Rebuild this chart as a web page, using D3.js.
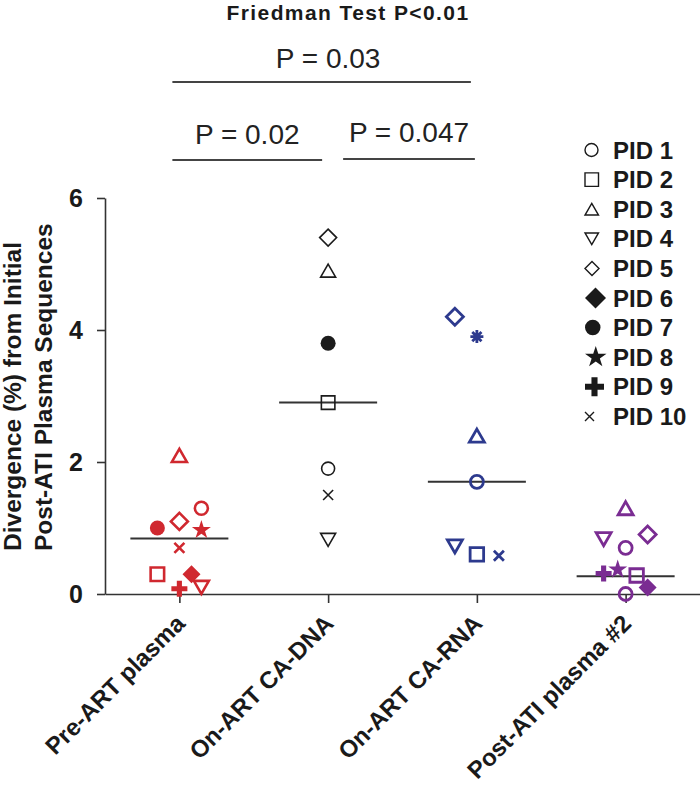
<!DOCTYPE html>
<html><head><meta charset="utf-8">
<script src="https://cdn.jsdelivr.net/npm/d3@7"></script>
<style>
body{margin:0;background:#fff;}
svg{display:block;font-family:"Liberation Sans",Arial,Helvetica,sans-serif;}
</style>
</head><body>
<svg id="chart" width="700" height="787"></svg>
<script>
// ---------- data ----------
const categories = ["Pre-ART plasma", "On-ART CA-DNA", "On-ART CA-RNA", "Post-ATI plasma #2"];
const groupColors = ["#d0282f", "#1c1c1c", "#2d3a8e", "#7a2c92"];
const yTicks = [0, 2, 4, 6];
const pidLabels = ["PID 1","PID 2","PID 3","PID 4","PID 5","PID 6","PID 7","PID 8","PID 9","PID 10"];
const pidShapes = ["circle","square","triangleUp","triangleDown","diamond","diamondFilled","circleFilled","star","plus","times"];

const preArtPid    = [1, 2, 3, 4, 5, 6, 7, 8, 9, 10];
const preArtValue  = [1.3, 0.3, 2.1, 0.1, 1.1, 0.3, 1.0, 0.97, 0.08, 0.7];
const preArtJitter = [1, -1, 0, 1, 0, 0.55, -1, 1, 0, 0];

const caDnaPid    = [5, 3, 7, 2, 1, 10, 4];
const caDnaValue  = [5.4, 4.9, 3.8, 2.9, 1.9, 1.5, 0.82];
const caDnaJitter = [0, 0, 0, 0, 0, 0, 0];

const caRnaPid    = [5, 8, 3, 1, 4, 2, 10];
const caRnaValue  = [4.2, 3.9, 2.4, 1.7, 0.72, 0.6, 0.58];
const caRnaJitter = [-1, 0, 0, 0, -1, 0, 1];

const postAtiPid    = [3, 4, 5, 1, 9, 8, 2, 6, 7];
const postAtiValue  = [1.3, 0.83, 0.9, 0.7, 0.31, 0.37, 0.28, 0.1, 0.0];
const postAtiJitter = [0, -1, 1, 0, -1, -0.36, 0.5, 1, 0];

const shapeOverrides = [
  {group: 2, pid: 8, shape: "asterisk"},
  {group: 3, pid: 7, shape: "circle"}
];

const medians = [0.84, 2.9, 1.7, 0.27];

const titleText = "Friedman Test P<0.01";
const yLabelLines = ["Divergence (%) from Initial", "Post-ATI Plasma Sequences"];
const comparisons = [
  {from: 0, to: 2, label: "P = 0.03"},
  {from: 0, to: 1, label: "P = 0.02"},
  {from: 1, to: 2, label: "P = 0.047"}
];

// ---------- layout ----------
const svg = d3.select("#chart");
const ink = "#1a1a1a";
const lineInk = "#333";

const x = d3.scalePoint().domain(categories).range([105, 700]).padding(0.5);
const y = d3.scaleLinear().domain([0, 6]).range([594, 198]);
const jitter = d3.scaleLinear().domain([-1, 1]).range([-22, 22]);

// shape paths
function shapePath(shape, w) {
  const h = w / 2;
  switch (shape) {
    case "circle":
    case "circleFilled": {
      const p = d3.path(); p.arc(0, 0, h, 0, 2 * Math.PI); p.closePath(); return p.toString();
    }
    case "square":
      return `M${-h},${-h}H${h}V${h}H${-h}Z`;
    case "triangleUp": {
      const hh = w * 0.87 / 2;
      return `M0,${-hh}L${h},${hh}L${-h},${hh}Z`;
    }
    case "triangleDown": {
      const hh = w * 0.87 / 2;
      return `M0,${hh}L${h},${-hh}L${-h},${-hh}Z`;
    }
    case "diamond":
    case "diamondFilled":
      return `M0,${-h}L${h},0L0,${h}L${-h},0Z`;
    case "star": {
      const r = w / 1.902;
      return d3.symbol(d3.symbolStar, r * r / 0.8908130915292852)();
    }
    case "plus": {
      const t = w * 0.16;
      return `M${-t},${-h}H${t}V${-t}H${h}V${t}H${t}V${h}H${-t}V${t}H${-h}V${-t}H${-t}Z`;
    }
    case "times":
      return `M${-h},${-h}L${h},${h}M${-h},${h}L${h},${-h}`;
    case "asterisk": {
      const d = h * 0.707;
      return `M0,${-h}V${h}M${-h},0H${h}M${-d},${-d}L${d},${d}M${-d},${d}L${d},${-d}`;
    }
  }
}
const filledShapes = new Set(["circleFilled", "diamondFilled", "star", "plus"]);
const dataSize = {circle: 13, circleFilled: 15, square: 13.5, triangleUp: 15, triangleDown: 15,
  diamond: 17, diamondFilled: 18, star: 19, plus: 16, times: 10, asterisk: 13};
const legendSize = {circle: 13, circleFilled: 15.5, square: 13.5, triangleUp: 13.5, triangleDown: 13.5,
  diamond: 14, diamondFilled: 21, star: 21.5, plus: 19, times: 9};
const groupStroke = [2.6, 1.6, 2.8, 2.8];

// ---------- axes ----------
const yAxis = svg.append("g").attr("transform", "translate(105,0)")
  .call(d3.axisLeft(y).tickValues(yTicks).tickSize(8).tickSizeOuter(0).tickPadding(14).tickFormat(d3.format("d")));
yAxis.select(".domain").attr("stroke", lineInk).attr("stroke-width", 1.6);
yAxis.selectAll(".tick line").attr("stroke", lineInk).attr("stroke-width", 1.6);
yAxis.selectAll(".tick text").attr("font-size", 25).attr("font-weight", "bold")
  .attr("font-family", "Liberation Sans, Arial, sans-serif").attr("fill", ink);

const xAxis = svg.append("g").attr("transform", "translate(0,594)")
  .call(d3.axisBottom(x).tickSize(9).tickSizeOuter(0).tickFormat(""));
xAxis.select(".domain").attr("stroke", lineInk).attr("stroke-width", 1.6);
xAxis.selectAll(".tick line").attr("stroke", lineInk).attr("stroke-width", 1.6);

svg.append("g").selectAll("text").data(categories).join("text")
  .attr("transform", d => `translate(${x(d) + 7},625) rotate(-45)`)
  .attr("text-anchor", "end")
  .attr("font-size", 24).attr("font-weight", "bold").attr("fill", ink)
  .text(d => d);

// y label
svg.append("g").selectAll("text").data(yLabelLines).join("text")
  .attr("transform", (d, i) => `translate(${21 + i * 31},551) rotate(-90)`)
  .attr("text-anchor", "start")
  .attr("font-size", 24.5).attr("font-weight", "bold").attr("fill", ink)
  .text(d => d);

// ---------- medians ----------
svg.append("g").selectAll("line").data(medians).join("line")
  .attr("x1", (d, i) => x(categories[i]) - 49)
  .attr("x2", (d, i) => x(categories[i]) + 49)
  .attr("y1", d => y(d)).attr("y2", d => y(d))
  .attr("stroke", lineInk).attr("stroke-width", 2);

// ---------- points ----------
const groups = [
  {pid: preArtPid, value: preArtValue, jit: preArtJitter},
  {pid: caDnaPid, value: caDnaValue, jit: caDnaJitter},
  {pid: caRnaPid, value: caRnaValue, jit: caRnaJitter},
  {pid: postAtiPid, value: postAtiValue, jit: postAtiJitter}
];
const points = [];
groups.forEach((g, gi) => {
  g.pid.forEach((p, i) => {
    const ov = shapeOverrides.find(o => o.group === gi && o.pid === p);
    points.push({gi, cat: categories[gi], pid: p, value: g.value[i], jit: g.jit[i],
      shape: ov ? ov.shape : pidShapes[p - 1]});
  });
});
svg.append("g").selectAll("path").data(points).join("path")
  .attr("transform", d => `translate(${x(d.cat) + jitter(d.jit)},${y(d.value)})`)
  .attr("d", d => shapePath(d.shape, dataSize[d.shape]))
  .attr("fill", d => filledShapes.has(d.shape) ? groupColors[d.gi] : "none")
  .attr("stroke", d => filledShapes.has(d.shape) ? "none" : groupColors[d.gi])
  .attr("stroke-width", d => groupStroke[d.gi]);

// ---------- legend ----------
const legend = svg.append("g").selectAll("g").data(pidLabels).join("g")
  .attr("transform", (d, i) => `translate(0,${150 + i * 29.6})`);
legend.append("path")
  .attr("transform", (d, i) => `translate(${585 + legendSize[pidShapes[i]] / 2},0)`)
  .attr("d", (d, i) => shapePath(pidShapes[i], legendSize[pidShapes[i]]))
  .attr("fill", (d, i) => filledShapes.has(pidShapes[i]) ? ink : "none")
  .attr("stroke", (d, i) => filledShapes.has(pidShapes[i]) ? "none" : ink)
  .attr("stroke-width", 1.4);
legend.append("text")
  .attr("x", 613).attr("y", 8.5)
  .attr("font-size", 24).attr("font-weight", "bold").attr("fill", ink)
  .text(d => d);

// ---------- title & comparisons ----------
svg.append("text").attr("x", 348).attr("y", 20).attr("text-anchor", "middle")
  .attr("font-size", 21).attr("font-weight", "bold").attr("letter-spacing", 1.4).attr("fill", ink)
  .text(titleText);

const bracketGeom = [
  {x1: x(categories[0]) - 7, x2: x(categories[2]) - 6, ly: 82, ty: 68},
  {x1: x(categories[0]) - 7, x2: x(categories[1]) - 6, ly: 160, ty: 144},
  {x1: x(categories[1]) + 15, x2: x(categories[2]) - 2, ly: 159, ty: 142}
];
const comp = svg.append("g").selectAll("g").data(comparisons).join("g");
comp.append("line")
  .attr("x1", (d, i) => bracketGeom[i].x1).attr("x2", (d, i) => bracketGeom[i].x2)
  .attr("y1", (d, i) => bracketGeom[i].ly).attr("y2", (d, i) => bracketGeom[i].ly)
  .attr("stroke", "#444").attr("stroke-width", 2);
comp.append("text")
  .attr("x", (d, i) => i === 0 ? x(categories[1]) : (bracketGeom[i].x1 + bracketGeom[i].x2) / 2)
  .attr("y", (d, i) => bracketGeom[i].ty)
  .attr("text-anchor", "middle").attr("font-size", 28).attr("fill", "#222")
  .text(d => d.label);
</script>
</body></html>
